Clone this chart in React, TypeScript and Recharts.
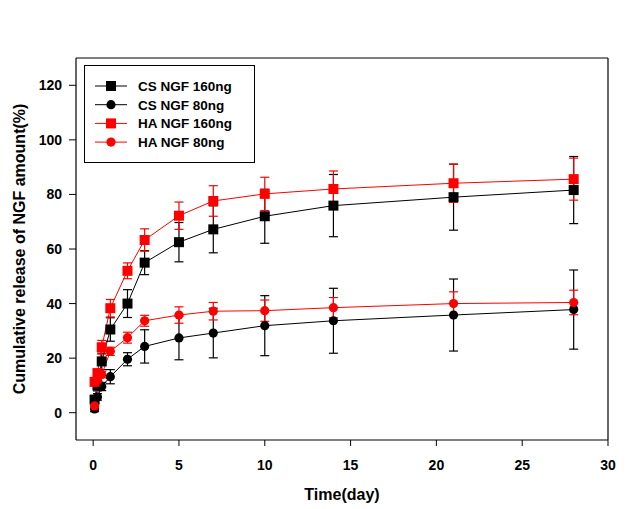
import React from 'react';
import { LineChart, Line, XAxis, YAxis, ErrorBar, ReferenceLine, Legend } from 'recharts';

// sampling times (days)
const days = [0.083, 0.25, 0.5, 1, 2, 3, 5, 7, 10, 14, 21, 28];

const cs160 = [4.8, 10, 18.8, 30.5, 40, 55, 62.5, 67.2, 72, 75.9, 79, 81.6];
const cs160Err = [1.5, 2, 3, 4.3, 5.1, 4.4, 7.2, 8.6, 9.9, 11.4, 12.1, 12.3];

const cs80 = [1.4, 5.8, 9.6, 13.2, 19.6, 24.3, 27.4, 29.2, 31.9, 33.7, 35.8, 37.8];
const cs80Err = [1, 1.2, 1.5, 2.6, 2.4, 6.1, 8, 9.1, 11, 11.9, 13.2, 14.5];

const ha160 = [11.3, 14.5, 24, 38.3, 52, 63.3, 72.2, 77.6, 80.2, 82, 84.1, 85.6];
const ha160Err = [1, 1.5, 2.5, 3.2, 2.9, 4.1, 5, 5.6, 6.1, 6.6, 7, 7.7];

const ha80 = [2.5, 11.8, 14, 22.5, 27.5, 33.7, 35.8, 37.2, 37.4, 38.5, 40, 40.4];
const ha80Err = [1, 1, 1.2, 1.5, 2, 2, 3, 3.2, 3.9, 3.7, 4.3, 4.5];

const xTicks = [0, 5, 10, 15, 20, 25, 30];
const yTicks = [0, 20, 40, 60, 80, 100, 120];

const seriesNames = ['CS NGF 160ng', 'CS NGF 80ng', 'HA NGF 160ng', 'HA NGF 80ng'];

const RED = '#ff0000';
const BLACK = '#000000';
const FONT = 'Arial, "Liberation Sans", sans-serif';

const toRows = (vals: number[], errs: number[]) =>
  days.map((x, i) => ({ x, y: vals[i], e: errs[i] }));

const series = [
  { name: seriesNames[0], data: toRows(cs160, cs160Err), color: BLACK, shape: 'square' },
  { name: seriesNames[1], data: toRows(cs80, cs80Err), color: BLACK, shape: 'circle' },
  { name: seriesNames[2], data: toRows(ha160, ha160Err), color: RED, shape: 'square' },
  { name: seriesNames[3], data: toRows(ha80, ha80Err), color: RED, shape: 'circle' },
];

const makeDot = (shape: string, color: string) => (props: any) => {
  const { cx, cy, index } = props;
  if (cx == null || cy == null) return <g key={`n-${index}`} />;
  return shape === 'square' ? (
    <rect key={`d-${index}`} x={cx - 5} y={cy - 5} width={10} height={10} fill={color} />
  ) : (
    <circle key={`d-${index}`} cx={cx} cy={cy} r={4.6} fill={color} />
  );
};

const tickStyle = { fontFamily: FONT, fontWeight: 'bold', fontSize: 14, fill: '#000' };

const LegendBox = () => (
  <svg width={171} height={98} style={{ display: 'block' }}>
    <rect x={0.5} y={0.5} width={170} height={97} fill="#fff" stroke="#000" strokeWidth={1} />
    {series.map((s, i) => {
      const y = 21 + i * 18.7;
      return (
        <g key={s.name}>
          <line x1={11} x2={43} y1={y} y2={y} stroke={s.color} strokeWidth={1} />
          {s.shape === 'square' ? (
            <rect x={22} y={y - 5} width={10} height={10} fill={s.color} />
          ) : (
            <circle cx={27} cy={y} r={4.6} fill={s.color} />
          )}
          <text x={54} y={y + 5} fontFamily={FONT} fontWeight="bold" fontSize={13.5} fill="#000">
            {s.name}
          </text>
        </g>
      );
    })}
  </svg>
);

export default function App() {
  return (
    <div style={{ width: 631, height: 501 }}>
      <LineChart width={631} height={501} margin={{ top: 50, right: 31, bottom: 39, left: 8 }}>
        <XAxis
          type="number"
          dataKey="x"
          domain={[-1, 30]}
          ticks={xTicks}
          allowDataOverflow
          height={30}
          tickSize={6}
          tickMargin={14}
          tick={tickStyle}
          axisLine={{ stroke: '#000', strokeWidth: 1.2 }}
          tickLine={{ stroke: '#000' }}
          label={{
            content: (p: any) => {
              const vb = p.viewBox || {};
              return (
                <text
                  x={vb.x + vb.width / 2}
                  y={vb.y + 60}
                  textAnchor="middle"
                  fontFamily={FONT}
                  fontWeight="bold"
                  fontSize={16}
                  fill="#000"
                >
                  Time(day)
                </text>
              );
            },
          }}
        />
        <YAxis
          type="number"
          domain={[-10, 130]}
          ticks={yTicks}
          allowDataOverflow
          width={60}
          tickSize={7}
          tickMargin={7}
          tick={tickStyle}
          axisLine={{ stroke: '#000', strokeWidth: 1.2 }}
          tickLine={{ stroke: '#000' }}
          label={{
            content: (p: any) => {
              const vb = p.viewBox || {};
              const cy = vb.y + vb.height / 2;
              return (
                <text
                  x={17}
                  y={cy}
                  transform={`rotate(-90, 17, ${cy})`}
                  textAnchor="middle"
                  fontFamily={FONT}
                  fontWeight="bold"
                  fontSize={16}
                  fill="#000"
                >
                  Cumulative release of NGF amount(%)
                </text>
              );
            },
          }}
        />
        <ReferenceLine y={130} stroke="#000" strokeWidth={1.2} />
        <ReferenceLine x={30} stroke="#000" strokeWidth={1.2} />
        {series.map((s) => (
          <Line
            key={s.name}
            name={s.name}
            data={s.data}
            dataKey="y"
            stroke={s.color}
            strokeWidth={1}
            dot={makeDot(s.shape, s.color)}
            activeDot={false}
            isAnimationActive={false}
          >
            <ErrorBar dataKey="e" direction="y" width={4.5} stroke={s.color} strokeWidth={1.2} />
          </Line>
        ))}
        <Legend
          layout="horizontal"
          verticalAlign="middle"
          align="center"
          wrapperStyle={{ left: 76, top: 57, width: 171, height: 98 }}
          content={() => <LegendBox />}
        />
      </LineChart>
    </div>
  );
}
